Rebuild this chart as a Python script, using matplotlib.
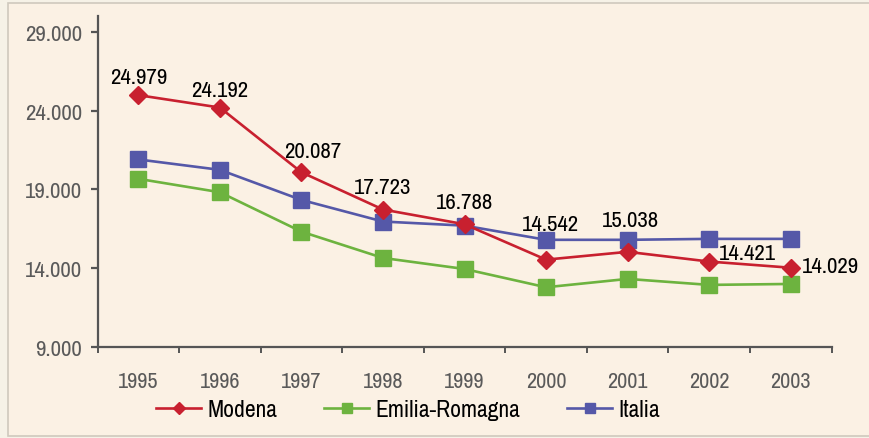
import matplotlib
matplotlib.use("Agg")
import matplotlib.pyplot as plt
from matplotlib.patches import Rectangle
from matplotlib.ticker import FixedLocator, FuncFormatter

years = ["1995", "1996", "1997", "1998", "1999", "2000", "2001", "2002", "2003"]
modena = [24979, 24192, 20087, 17723, 16788, 14542, 15038, 14421, 14029]
emilia = [19670, 18820, 16320, 14650, 13950, 12790, 13320, 12940, 13000]
italia = [20900, 20240, 18330, 16960, 16700, 15800, 15800, 15860, 15860]
yticks = [9000, 14000, 19000, 24000, 29000]

NARROW = ["Archivo Narrow", "Barlow Condensed", "DejaVu Sans"]

RED = "#C8202F"
GREEN = "#6DB33F"
BLUE = "#5558A8"

DPI = 100
fig = plt.figure(figsize=(8.69, 4.39), dpi=DPI, facecolor="#F6F2E7")
fig.patches.append(Rectangle((8 / 869, 2 / 439), 1.0, 1 - 6 / 439,
                             transform=fig.transFigure, facecolor="#FBF1E4",
                             edgecolor="#CFC9BD", linewidth=1.2, zorder=-10))

ax = fig.add_axes([97.5 / 869, 91 / 439, 734 / 869, 331 / 439])
ax.set_facecolor("none")

x = list(range(len(years)))
ax.plot(x, emilia, color=GREEN, lw=1.9, marker="s", ms=12, mec=GREEN,
        label="Emilia-Romagna", zorder=3)
ax.plot(x, italia, color=BLUE, lw=1.9, marker="s", ms=12, mec=BLUE,
        label="Italia", zorder=4)
ax.plot(x, modena, color=RED, lw=1.9, marker="D", ms=9, mec=RED,
        label="Modena", zorder=5)

ax.set_xlim(-0.5, len(years) - 0.5)
ax.set_ylim(9000, 30000)

# label offsets in pixels (dx, dy up, alignment)
offs = [(0, 12, "center"), (0, 12, "center"), (11, 15, "center"),
        (0, 17, "center"), (0, 16, "center"), (4, 30, "center"),
        (3, 26, "center"), (10, 3, "left"), (11, -4, "left")]
for i, v in enumerate(modena):
    dx, dy, ha = offs[i]
    ax.annotate(f"{v:,}".replace(",", "."), (i, v),
                xytext=(dx * 72 / DPI, dy * 72 / DPI), textcoords="offset points",
                ha=ha, va="baseline", fontsize=16.5, family=NARROW,
                color="black", zorder=6)

for s in ["top", "right"]:
    ax.spines[s].set_visible(False)
for s in ["left", "bottom"]:
    ax.spines[s].set_color("#555555")
    ax.spines[s].set_linewidth(1.6)

ax.yaxis.set_major_locator(FixedLocator(yticks))
ax.yaxis.set_major_formatter(FuncFormatter(lambda v, p: f"{int(v):,}".replace(",", ".")))
ax.tick_params(axis="y", direction="out", length=5, width=1.6, color="#555555",
               pad=6, labelcolor="#5a5a5a", labelsize=16.5)
for t in ax.get_yticklabels():
    t.set_family(NARROW)

ax.set_xticks([i - 0.5 for i in range(len(years) + 1)])
ax.set_xticklabels([])
ax.set_xticks(x, minor=True)
ax.set_xticklabels(years, minor=True, family=NARROW, fontsize=16, color="#5a5a5a")
ax.tick_params(axis="x", which="major", direction="out", length=4, width=1.4,
               color="#555555")
ax.tick_params(axis="x", which="minor", length=0, pad=17)

h, l = ax.get_legend_handles_labels()
order = [2, 0, 1]
leg = fig.legend([h[i] for i in order], [l[i] for i in order], loc="center",
                 bbox_to_anchor=(408 / 869, 1 - 411 / 439), ncol=3, frameon=False,
                 prop={"family": NARROW, "size": 17}, handlelength=1.9,
                 handletextpad=0.25, columnspacing=2.0, markerscale=0.65)

fig.savefig("out.png", dpi=DPI, facecolor=fig.get_facecolor())
